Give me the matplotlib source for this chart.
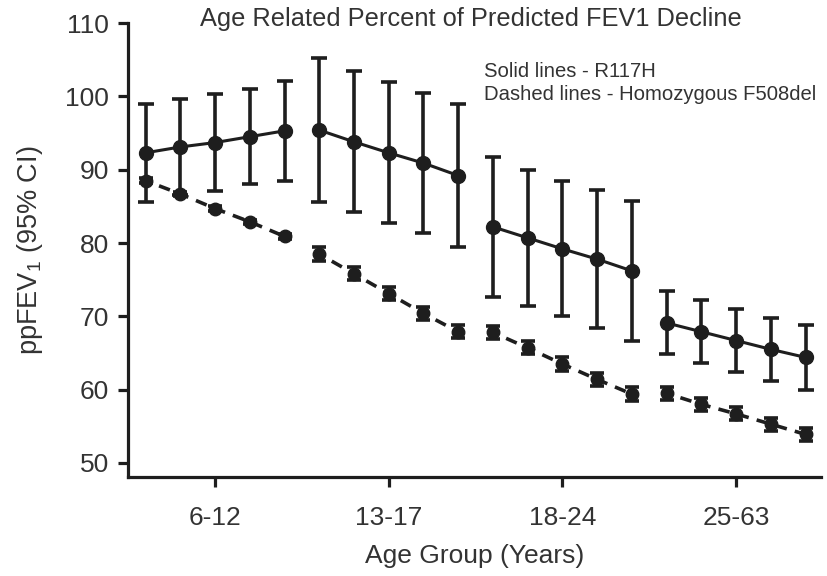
import numpy as np
import matplotlib
matplotlib.use('Agg')
import matplotlib.pyplot as plt

plt.rcParams['font.family'] = ['Liberation Sans', 'DejaVu Sans']
plt.rcParams['mathtext.fontset'] = 'custom'
plt.rcParams['mathtext.rm'] = 'Liberation Sans'
plt.rcParams['mathtext.it'] = 'Liberation Sans:italic'

AGE_GROUPS = ['6-12', '13-17', '18-24', '25-63']
POINTS_PER_GROUP = 5

# R117H (solid lines), mean ppFEV1 and half-width of 95% CI
r117h_mean = [
    [92.3, 93.1, 93.7, 94.5, 95.3],
    [95.4, 93.8, 92.3, 90.9, 89.2],
    [82.2, 80.7, 79.2, 77.8, 76.2],
    [69.1, 67.9, 66.7, 65.5, 64.4],
]
r117h_ci = [
    [6.7, 6.6, 6.6, 6.5, 6.8],
    [9.8, 9.6, 9.6, 9.5, 9.8],
    [9.5, 9.3, 9.2, 9.4, 9.5],
    [4.3, 4.3, 4.3, 4.3, 4.4],
]

# Homozygous F508del (dashed lines)
f508_mean = [
    [88.5, 86.7, 84.7, 82.9, 80.9],
    [78.5, 75.8, 73.1, 70.4, 67.9],
    [67.8, 65.7, 63.5, 61.4, 59.4],
    [59.5, 58.0, 56.7, 55.3, 53.9],
]
f508_ci = [
    [0.3, 0.3, 0.3, 0.3, 0.3],
    [0.9, 0.9, 0.9, 0.9, 0.9],
    [0.9, 0.9, 0.9, 0.9, 0.9],
    [0.9, 0.9, 0.9, 0.9, 0.9],
]

COLOR = '#1e1e1e'
TEXT = '#333333'


def main():
    fig = plt.figure(figsize=(8.27, 5.76), dpi=100)
    ax = fig.add_axes([0.155, 0.172, 0.838, 0.788])

    for g in range(len(AGE_GROUPS)):
        x = np.arange(POINTS_PER_GROUP) + g * POINTS_PER_GROUP
        ax.errorbar(x, r117h_mean[g], yerr=r117h_ci[g], color=COLOR,
                    linestyle='-', linewidth=2.2, marker='o', markersize=10,
                    elinewidth=2.6, capsize=5.5, capthick=2.6, zorder=3)
        ax.errorbar(x, f508_mean[g], yerr=f508_ci[g], color=COLOR,
                    linestyle=(1.5, (3.2, 2.3)), linewidth=2.6, marker='o',
                    markersize=9, elinewidth=2.6, capsize=5, capthick=2.6,
                    zorder=3)

    ax.set_xlim(-0.5, 19.45)
    ax.set_ylim(48.1, 110)
    ax.set_yticks([50, 60, 70, 80, 90, 100, 110])
    centers = [g * POINTS_PER_GROUP + 2 for g in range(len(AGE_GROUPS))]
    ax.set_xticks(centers)
    ax.set_xticklabels(AGE_GROUPS)

    for side in ['top', 'right']:
        ax.spines[side].set_visible(False)
    for side in ['left', 'bottom']:
        ax.spines[side].set_linewidth(2.3)
        ax.spines[side].set_color(COLOR)
    ax.tick_params(axis='both', direction='out', length=7, width=2.3,
                   color=COLOR, labelsize=19, labelcolor=TEXT)
    ax.tick_params(axis='x', pad=14)
    ax.tick_params(axis='y', pad=7)

    fig.text(471 / 827, 1 - 19 / 576,
             'Age Related Percent of Predicted FEV1 Decline',
             ha='center', va='center', fontsize=18.3, color=TEXT)
    fig.text(484 / 827, 1 - 83 / 576,
             'Solid lines - R117H\nDashed lines - Homozygous F508del',
             ha='left', va='center', fontsize=14.6, color=TEXT,
             linespacing=1.25)

    ax.set_xlabel('Age Group (Years)', fontsize=19, color=TEXT,
                  labelpad=10)
    ax.set_ylabel(r'ppFEV$_1$ (95% CI)', fontsize=19.5, color=TEXT,
                  labelpad=14)

    fig.savefig('out.png', dpi=100)


if __name__ == '__main__':
    main()
